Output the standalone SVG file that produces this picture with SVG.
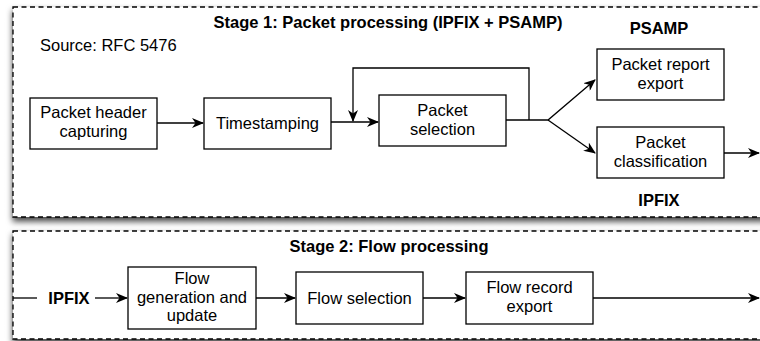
<svg xmlns="http://www.w3.org/2000/svg" width="760" height="341" viewBox="0 0 760 341">
<defs>
<style>
.t{font-family:"Liberation Sans",Arial,sans-serif;font-size:16.5px;fill:#000;text-anchor:middle}
.b{font-weight:bold}
.box{fill:#fff;stroke:#000;stroke-width:1.3}
.stage{fill:#fff;stroke:#000;stroke-width:1.3;stroke-dasharray:5 3.5}
.c{fill:none;stroke:#000;stroke-width:1.3}
</style>
<filter id="sh" x="-5%" y="-10%" width="110%" height="130%">
<feDropShadow dx="0" dy="4" stdDeviation="3" flood-color="#000" flood-opacity="0.75"/>
</filter>
<marker id="ar" viewBox="0 0 12 10" refX="11" refY="5" markerWidth="12" markerHeight="10" markerUnits="userSpaceOnUse" orient="auto">
<path d="M0,0 L12,5 L0,10 L3.5,5 z" fill="#000"/>
</marker>
</defs>
<g id="stage1">
<rect class="stage" x="13" y="7" width="760" height="210" filter="url(#sh)"/>
<text class="t b" x="388" y="28">Stage 1: Packet processing (IPFIX + PSAMP)</text>
<text class="t" x="40" y="51" style="text-anchor:start">Source: RFC 5476</text>
<text class="t b" x="659" y="34">PSAMP</text>
<text class="t b" x="659" y="206">IPFIX</text>
</g>
<g id="stage2">
<rect class="stage" x="13" y="231" width="760" height="108" filter="url(#sh)"/>
<text class="t b" x="389" y="252">Stage 2: Flow processing</text>
<text class="t b" x="69" y="304">IPFIX</text>
</g>
<g id="capture">
<rect class="box" x="30" y="98" width="127" height="51"/>
<text class="t" x="93.5" y="118">Packet header</text>
<text class="t" x="93.5" y="137">capturing</text>
</g>
<g id="timestamp">
<rect class="box" x="204" y="98" width="127" height="51"/>
<text class="t" x="267.5" y="129">Timestamping</text>
</g>
<g id="selection">
<rect class="box" x="379" y="95" width="127" height="51"/>
<text class="t" x="442.5" y="116">Packet</text>
<text class="t" x="442.5" y="135">selection</text>
</g>
<g id="report">
<rect class="box" x="597" y="49" width="127" height="51"/>
<text class="t" x="660.5" y="70">Packet report</text>
<text class="t" x="660.5" y="89">export</text>
</g>
<g id="classification">
<rect class="box" x="597" y="127" width="127" height="51"/>
<text class="t" x="660.5" y="148">Packet</text>
<text class="t" x="660.5" y="167">classification</text>
</g>
<g id="flowgen">
<rect class="box" x="128" y="267" width="128" height="62"/>
<text class="t" x="192" y="284">Flow</text>
<text class="t" x="192" y="303">generation and</text>
<text class="t" x="192" y="321">update</text>
</g>
<g id="flowsel">
<rect class="box" x="296" y="272" width="127" height="52"/>
<text class="t" x="359.5" y="304">Flow selection</text>
</g>
<g id="flowexp">
<rect class="box" x="466" y="272" width="127" height="52"/>
<text class="t" x="529.5" y="293">Flow record</text>
<text class="t" x="529.5" y="312">export</text>
</g>
<g id="connectors">
<path class="c" d="M157,123 H203" marker-end="url(#ar)"/>
<path class="c" d="M331,122 H378" marker-end="url(#ar)"/>
<path class="c" d="M529,120 V68 H353 V121" marker-end="url(#ar)"/>
<path class="c" d="M506,120 H548 L595,80" marker-end="url(#ar)"/>
<path class="c" d="M548,120 L595,153" marker-end="url(#ar)"/>
<path class="c" d="M724,153 H759" marker-end="url(#ar)"/>
<path class="c" d="M13,298 H37"/>
<path class="c" d="M95,298 H127" marker-end="url(#ar)"/>
<path class="c" d="M256,298 H295" marker-end="url(#ar)"/>
<path class="c" d="M423,298 H465" marker-end="url(#ar)"/>
<path class="c" d="M593,298 H759" marker-end="url(#ar)"/>
</g>
</svg>
